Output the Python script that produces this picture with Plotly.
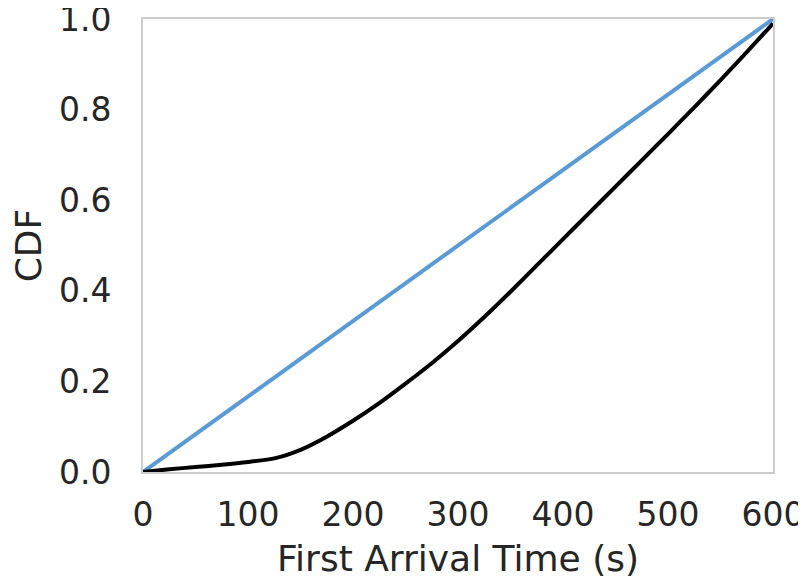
import plotly.graph_objects as go

time_s = [0, 25, 50, 75, 100, 125, 150, 175, 200, 225, 250, 275, 300,
          325, 350, 375, 400, 425, 450, 475, 500, 525, 550, 575, 600]
cdf_observed = [0.0, 0.006, 0.011, 0.016, 0.022, 0.030, 0.049, 0.078, 0.113,
                0.152, 0.195, 0.240, 0.289, 0.342, 0.398, 0.456, 0.514, 0.572,
                0.630, 0.688, 0.746, 0.805, 0.865, 0.927, 0.99]
uniform_t = [0, 600]
uniform_cdf = [0.0, 1.0]
x_ticks = [0, 100, 200, 300, 400, 500, 600]
y_ticks = [0.0, 0.2, 0.4, 0.6, 0.8, 1.0]

fig = go.Figure()
fig.add_trace(go.Scatter(x=uniform_t, y=uniform_cdf, mode="lines",
                         line=dict(color="#5b9bd5", width=4), showlegend=False,
                         cliponaxis=False))
fig.add_trace(go.Scatter(x=time_s, y=cdf_observed, mode="lines",
                         line=dict(color="#000000", width=4, shape="spline", smoothing=0.6),
                         showlegend=False, cliponaxis=False))

font_family = "DejaVu Sans"
# the page body adds an 8px offset, so the figure is sized to fit the window
fig.update_layout(
    width=798, height=571,
    margin=dict(l=135, r=33, t=11, b=107),
    paper_bgcolor="white", plot_bgcolor="white",
    font=dict(family=font_family, size=33, color="#262626"),
    xaxis=dict(range=[0, 600], tickvals=x_ticks, automargin=False,
               showgrid=False, zeroline=False, showline=True, mirror=True,
               linecolor="#cccccc", linewidth=2, ticks="", ticklen=0,
               ticklabelstandoff=12, ticklabeloverflow="allow",
               tickfont=dict(size=33),
               title=dict(text="First Arrival Time (s)", font=dict(size=36), standoff=28)),
    yaxis=dict(range=[0, 1], tickvals=y_ticks, automargin=False,
               tickformat=".1f",
               showgrid=False, zeroline=False, showline=True, mirror=True,
               linecolor="#cccccc", linewidth=2, ticks="", ticklen=0,
               ticklabelstandoff=23, ticklabeloverflow="allow",
               tickfont=dict(size=33),
               title=dict(text="CDF", font=dict(size=36), standoff=7)),
)

fig.write_html("out.html")
